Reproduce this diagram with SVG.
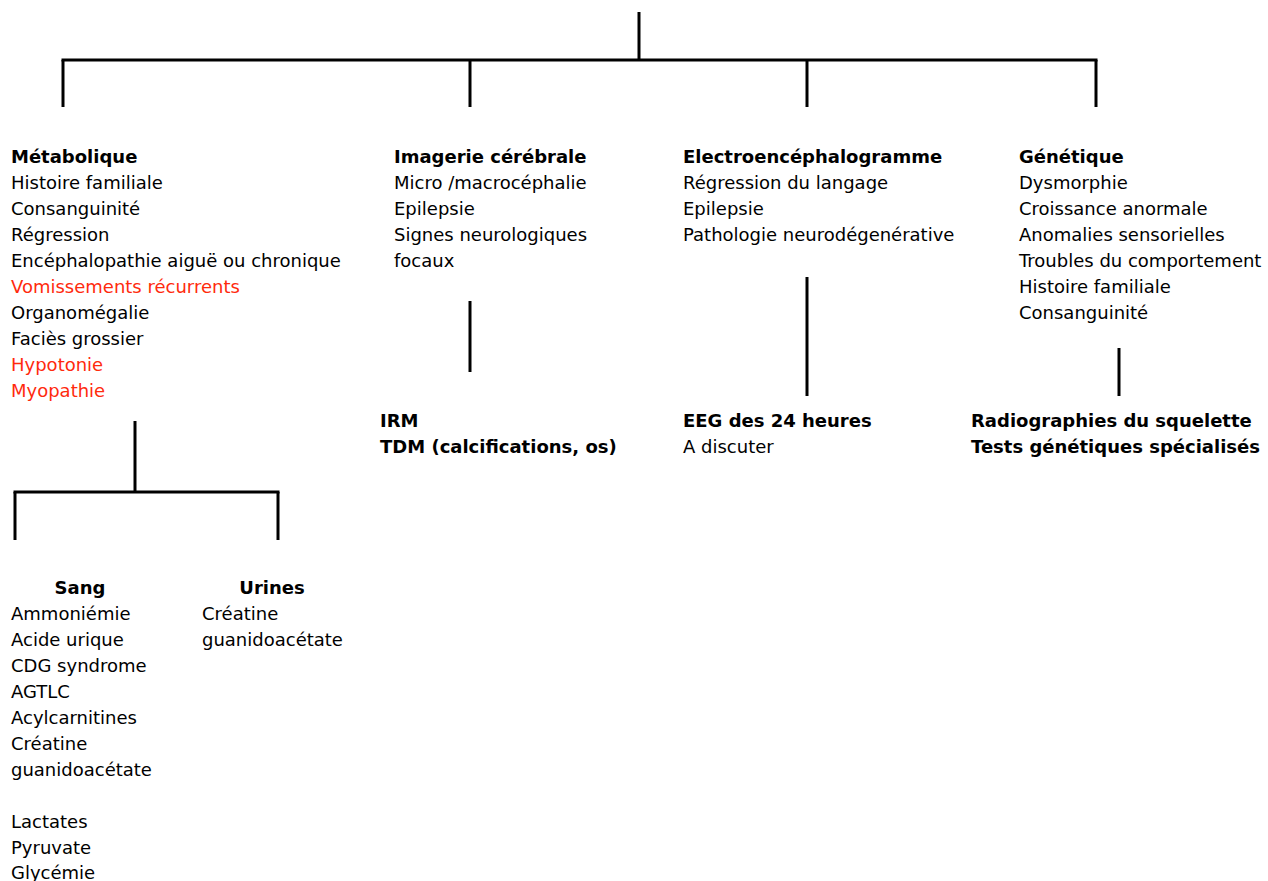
<svg xmlns="http://www.w3.org/2000/svg" width="1268" height="881" viewBox="0 0 1268 881">
<style>
text{font-family:"DejaVu Sans",Verdana,sans-serif;font-size:18px;fill:#000}
.b{font-weight:bold}
.r{fill:#ff2a0d}
.c{text-anchor:middle}
line{stroke:#000;stroke-width:3;stroke-linecap:butt}
</style>
<rect width="1268" height="881" fill="#fff"/>
<g id="connectors">
<line x1="639" y1="12" x2="639" y2="60"/>
<line x1="61.5" y1="60" x2="1097.5" y2="60"/>
<line x1="63" y1="60" x2="63" y2="107"/>
<line x1="470" y1="60" x2="470" y2="107"/>
<line x1="807" y1="60" x2="807" y2="107"/>
<line x1="1096" y1="60" x2="1096" y2="107"/>
<line x1="135" y1="421" x2="135" y2="492"/>
<line x1="13.5" y1="492" x2="279.5" y2="492"/>
<line x1="15" y1="492" x2="15" y2="540"/>
<line x1="278" y1="492" x2="278" y2="540"/>
<line x1="470" y1="301" x2="470" y2="372"/>
<line x1="807" y1="277" x2="807" y2="396"/>
<line x1="1119" y1="348" x2="1119" y2="396"/>
</g>
<g id="metabolique">
<text x="11" y="163" class="b">Métabolique</text>
<text x="11" y="189">Histoire familiale</text>
<text x="11" y="215">Consanguinité</text>
<text x="11" y="241">Régression</text>
<text x="11" y="267">Encéphalopathie aiguë ou chronique</text>
<text x="11" y="293" class="r">Vomissements récurrents</text>
<text x="11" y="319">Organomégalie</text>
<text x="11" y="345">Faciès grossier</text>
<text x="11" y="371" class="r">Hypotonie</text>
<text x="11" y="397" class="r">Myopathie</text>
</g>
<g id="imagerie">
<text x="394" y="163" class="b">Imagerie cérébrale</text>
<text x="394" y="189">Micro /macrocéphalie</text>
<text x="394" y="215">Epilepsie</text>
<text x="394" y="241">Signes neurologiques</text>
<text x="394" y="267">focaux</text>
</g>
<g id="eeg">
<text x="683" y="163" class="b">Electroencéphalogramme</text>
<text x="683" y="189">Régression du langage</text>
<text x="683" y="215">Epilepsie</text>
<text x="683" y="241">Pathologie neurodégenérative</text>
</g>
<g id="genetique">
<text x="1019" y="163" class="b">Génétique</text>
<text x="1019" y="189">Dysmorphie</text>
<text x="1019" y="215">Croissance anormale</text>
<text x="1019" y="241">Anomalies sensorielles</text>
<text x="1019" y="267">Troubles du comportement</text>
<text x="1019" y="293">Histoire familiale</text>
<text x="1019" y="319">Consanguinité</text>
</g>
<g id="imagerie-examens">
<text x="380" y="427" class="b">IRM</text>
<text x="380" y="453" class="b">TDM (calcifications, os)</text>
</g>
<g id="eeg-examens">
<text x="683" y="427" class="b">EEG des 24 heures</text>
<text x="683" y="453">A discuter</text>
</g>
<g id="genetique-examens">
<text x="971" y="427" class="b">Radiographies du squelette</text>
<text x="971" y="453" class="b">Tests génétiques spécialisés</text>
</g>
<g id="sang">
<text x="80" y="594" class="b c">Sang</text>
<text x="11" y="620">Ammoniémie</text>
<text x="11" y="646">Acide urique</text>
<text x="11" y="672">CDG syndrome</text>
<text x="11" y="698">AGTLC</text>
<text x="11" y="724">Acylcarnitines</text>
<text x="11" y="750">Créatine</text>
<text x="11" y="776">guanidoacétate</text>
<text x="11" y="828">Lactates</text>
<text x="11" y="854">Pyruvate</text>
<text x="11" y="879">Glycémie</text>
</g>
<g id="urines">
<text x="272" y="594" class="b c">Urines</text>
<text x="202" y="620">Créatine</text>
<text x="202" y="646">guanidoacétate</text>
</g>
</svg>
